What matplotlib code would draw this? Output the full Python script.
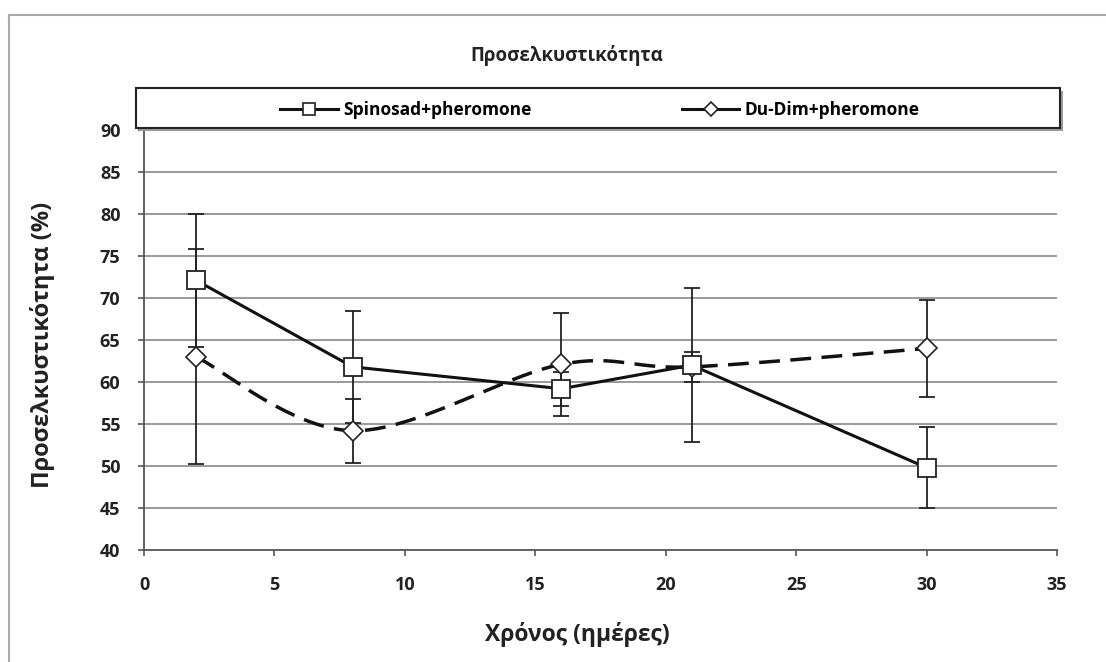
import numpy as np
import matplotlib
matplotlib.use("Agg")
import matplotlib.pyplot as plt
from matplotlib.lines import Line2D
from matplotlib.patches import Rectangle

plt.rcParams['font.family'] = ['Open Sans', 'DejaVu Sans']

days = [2, 8, 16, 21, 30]
spinosad = [72.1, 61.8, 59.2, 62.0, 49.8]
spinosad_err = [7.9, 6.7, 2.0, 9.2, 4.8]
dudim = [63.0, 54.2, 62.1, 61.8, 64.0]
dudim_err = [12.8, 3.8, 6.1, 1.8, 5.8]

title = "Προσελκυστικότητα"
xlabel = "Χρόνος (ημέρες)"
ylabel = "Προσελκυστικότητα (%)"
names = ['Spinosad+pheromone', 'Du-Dim+pheromone']

W, H = 1106, 662


def smooth(x, y, n=40):
    # Excel-like smoothed line: cubic bezier with catmull-rom control points
    p = np.column_stack([x, y]).astype(float)
    p = np.vstack([p[0], p, p[-1]])
    out = []
    t = np.linspace(0, 1, n)[:, None]
    for i in range(1, len(p) - 2):
        p0, p1, p2, p3 = p[i - 1], p[i], p[i + 1], p[i + 2]
        c1 = p1 + (p2 - p0) / 6
        c2 = p2 - (p3 - p1) / 6
        seg = ((1 - t) ** 3) * p1 + 3 * ((1 - t) ** 2) * t * c1 \
            + 3 * (1 - t) * t ** 2 * c2 + t ** 3 * p2
        out.append(seg)
    seg = np.vstack(out)
    return seg[:, 0], seg[:, 1]


fig = plt.figure(figsize=(W / 100, H / 100), dpi=100)
ax = fig.add_axes([144 / W, 1 - 550 / H, 913 / W, 420 / H])

ax.set_xlim(0, 35)
ax.set_ylim(40, 90)
ax.set_xticks(range(0, 36, 5))
ax.set_yticks(range(40, 91, 5))
for v in range(45, 91, 5):
    ax.axhline(v, color='#9a9a9a', lw=1.4, zorder=0)

ax.spines['top'].set_visible(False)
ax.spines['right'].set_visible(False)
for s in ['left', 'bottom']:
    ax.spines[s].set_color('#555555')
    ax.spines[s].set_linewidth(1.3)
ax.tick_params(direction='out', length=4, width=1.2, color='#555555',
               labelsize=13, labelcolor='#222222')
ax.tick_params(axis='y', pad=13)
ax.tick_params(axis='x', pad=15)
for lab in ax.get_xticklabels() + ax.get_yticklabels():
    lab.set_fontweight('bold')

# error bars
ax.errorbar(days, spinosad, yerr=spinosad_err, fmt='none', ecolor='#222222',
            elinewidth=1.3, capsize=6, capthick=1.3, zorder=2)
ax.errorbar(days, dudim, yerr=dudim_err, fmt='none', ecolor='#222222',
            elinewidth=1.3, capsize=6, capthick=1.3, zorder=2)

# lines
sx, sy = smooth(days, dudim)
ax.plot(sx, sy, color='#111111', lw=2.5, linestyle=(0, (6, 3)), zorder=3)
ax.plot(days, spinosad, color='#111111', lw=2.2, zorder=3)

# markers
ax.plot(days, dudim, linestyle='none', marker='D', ms=10, mfc='white',
        mec='#222222', mew=1.2, zorder=4)
ax.plot(days, spinosad, linestyle='none', marker='s', ms=13, mfc='white',
        mec='#222222', mew=1.3, zorder=5)

ax.set_xlabel(xlabel, fontsize=16.5, fontweight='bold', color='#222222')
ax.xaxis.set_label_coords(0.475, -0.172)
ax.set_ylabel(ylabel, fontsize=17, fontweight='bold', color='#222222')
ax.yaxis.set_label_coords(-0.097, 0.488)

fig.text(567 / W, 1 - 55 / H, title, ha='center', va='center',
         fontsize=13.5, fontweight='bold', color='#222222')

# legend box with shadow
fig.add_artist(Rectangle((139 / W, 1 - 131 / H), 924 / W, 40 / H,
                         transform=fig.transFigure, facecolor='#9a9a9a',
                         edgecolor='none', zorder=1))
fig.add_artist(Rectangle((136 / W, 1 - 128 / H), 924 / W, 40 / H,
                         transform=fig.transFigure, facecolor='white',
                         edgecolor='#222222', lw=1.5, zorder=2))

handles = [
    Line2D([], [], color='#111111', lw=2.2, marker='s', ms=9, mfc='white',
           mec='#222222', mew=1.2),
    Line2D([], [], color='#111111', lw=2.2, marker='D', ms=7, mfc='white',
           mec='#222222', mew=1.2),
]
leg = fig.legend(handles, names, loc='center',
                 bbox_to_anchor=(600 / W, 1 - 110 / H),
                 ncol=2, frameon=False, handlelength=3.3, handletextpad=0.3,
                 columnspacing=8.7, prop={'weight': 'bold', 'size': 12.5})
leg.set_zorder(3)

# faint chart border (top and left)
fig.add_artist(Line2D([9 / W, 1.0], [1 - 15 / H] * 2, color='#aaaaaa',
                      lw=1.5, transform=fig.transFigure))
fig.add_artist(Line2D([9 / W] * 2, [0, 1 - 15 / H], color='#aaaaaa',
                      lw=1.5, transform=fig.transFigure))

fig.savefig('out.png', dpi=100)
